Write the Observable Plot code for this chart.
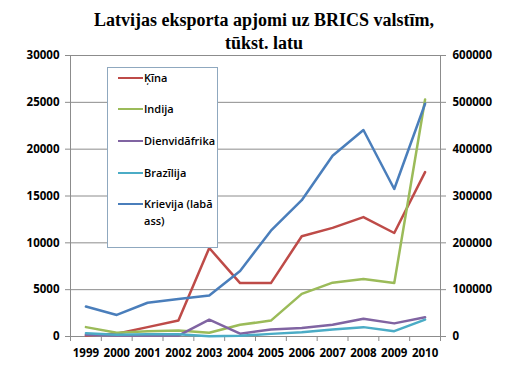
<!DOCTYPE html>
<html><head><meta charset="utf-8">
<script src="https://cdn.jsdelivr.net/npm/d3@7"></script>
<script src="https://cdn.jsdelivr.net/npm/@observablehq/plot@0.6"></script>
<style>
body{margin:0;background:#fff}
#wrap{position:relative;width:528px;height:382px;overflow:hidden;background:#fff}
#title{position:absolute;left:0;top:9px;width:528px;text-align:center;font:bold 18px "Liberation Serif","Times New Roman",serif;line-height:23px;color:#000}
#chart{position:absolute;left:0;top:0}
#legend{position:absolute;left:107px;top:67px;width:111px;height:181px;border:1px solid #8fa8bf;background:#fff;box-sizing:border-box}
.item{position:absolute;left:10px;display:flex;align-items:flex-start;font:600 11px "Open Sans",sans-serif;color:#000;line-height:17px}
.sw{width:25px;height:2.5px;margin-top:7.5px;flex:none}
.lab{width:74px;padding-left:1px}
</style></head><body>
<div id="wrap">
<div id="chart"></div>
<div id="title">Latvijas eksporta apjomi uz BRICS valstīm,<br>tūkst. latu</div>
<div id="legend"></div>
</div>
<script>
const years=[1999,2000,2001,2002,2003,2004,2005,2006,2007,2008,2009,2010];
const seriesNames=["Ķīna","Indija","Dienvidāfrika","Brazīlija","Krievija (labā ass)"];
const seriesColors=["#be4b48","#9bbb59","#8064a2","#4bacc6","#4a7ebb"];
const kina=[100,300,1000,1700,9450,5700,5700,10700,11600,12750,11050,17550];
const indija=[1000,400,550,650,400,1250,1700,4550,5750,6150,5700,25300];
const dienvidafrika=[200,100,100,100,1800,300,750,900,1250,1900,1400,2050];
const brazilija=[350,200,250,250,30,80,280,460,750,1000,570,1800];
const krievija=[64000,46000,72000,80000,87500,140000,226000,291000,386000,441000,315000,497000];
const leftTicks=[0,5000,10000,15000,20000,25000,30000];
const rightTicks=[0,100000,200000,300000,400000,500000,600000];
const ratio=20;

const allSeries=[kina,indija,dienvidafrika,brazilija,krievija];
const rows=[];
allSeries.forEach((vals,si)=>{
  vals.forEach((v,i)=>rows.push({year:years[i],value:si===4?v/ratio:v,name:seriesNames[si]}));
});
const bounds=d3.range(years.length+1).map(i=>years[0]-0.5+i);

const chart=Plot.plot({
  width:528,height:382,
  marginTop:55,marginBottom:46,marginLeft:70,marginRight:88,
  style:{fontFamily:"'Open Sans',sans-serif",fontSize:"11.5px",fontWeight:"700",color:"#000",background:"transparent"},
  x:{domain:[years[0]-0.5,years[years.length-1]+0.5]},
  y:{domain:[0,30000]},
  color:{domain:seriesNames,range:seriesColors},
  marks:[
    Plot.ruleY(leftTicks.slice(1),{stroke:"#8c8c8c",strokeWidth:1}),
    Plot.frame({stroke:"#8c8c8c"}),
    Plot.axisY(leftTicks,{anchor:"left",tickSize:5,tickPadding:6,stroke:"#8c8c8c",label:null,tickFormat:d=>String(d)}),
    Plot.axisY(leftTicks,{anchor:"right",tickSize:5,tickPadding:7,stroke:"#8c8c8c",label:null,tickFormat:(d,i)=>String(rightTicks[i])}),
    Plot.axisX(bounds,{anchor:"bottom",tickSize:5,stroke:"#8c8c8c",tickFormat:()=>"",label:null}),
    Plot.axisX(years,{anchor:"bottom",tickSize:0,tickPadding:12,tickFormat:d=>String(d),label:null}),
    Plot.line(rows,{x:"year",y:"value",z:"name",stroke:"name",strokeWidth:2.5})
  ]
});
document.getElementById("chart").appendChild(chart);

const leg=document.getElementById("legend");
const rowTops=[1,32,64,96,127];
seriesNames.forEach((n,i)=>{
  const it=document.createElement("div");
  it.className="item";
  it.style.top=rowTops[i]+"px";
  const sw=document.createElement("div");sw.className="sw";sw.style.background=seriesColors[i];
  const lb=document.createElement("div");lb.className="lab";lb.textContent=n;
  it.appendChild(sw);it.appendChild(lb);leg.appendChild(it);
});
</script>
</body></html>
